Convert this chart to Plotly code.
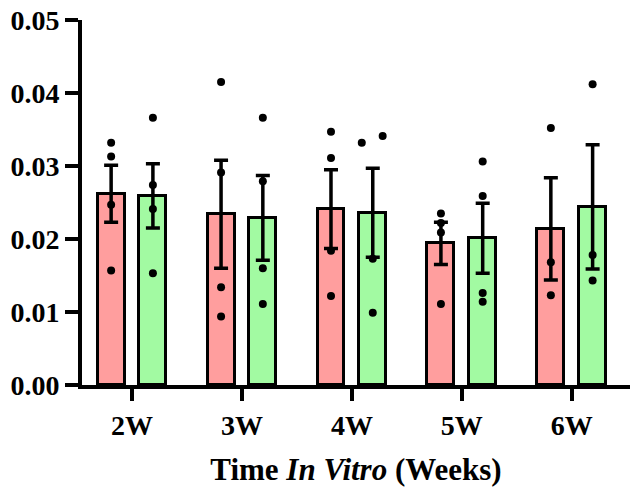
import plotly.graph_objects as go

# ---- data ----
categories = ["2W", "3W", "4W", "5W", "6W"]

red_mean = [0.0262, 0.0234, 0.0241, 0.0194, 0.0214]
red_sem = [0.0039, 0.0074, 0.0054, 0.0029, 0.0070]
green_mean = [0.0259, 0.0229, 0.0236, 0.0201, 0.0244]
green_sem = [0.0044, 0.0058, 0.0061, 0.0048, 0.0085]

red_points = [
    [0.0332, 0.0313, 0.0247, 0.0157],
    [0.0415, 0.0291, 0.0134, 0.0094],
    [0.0347, 0.0311, 0.0184, 0.0122],
    [0.0235, 0.0222, 0.0209, 0.0111],
    [0.0352, 0.0168, 0.0123],
]
green_points = [
    [0.0366, 0.0274, 0.0241, 0.0153],
    [0.0366, 0.0279, 0.0160, 0.0111],
    [0.0341, 0.0332, 0.0173, 0.0099],
    [0.0306, 0.0259, 0.0126, 0.0114],
    [0.0412, 0.0178, 0.0143],
]

y_ticks = [0.00, 0.01, 0.02, 0.03, 0.04, 0.05]

# ---- styling ----
RED = "#FF9E9E"
GREEN = "#A2FAA2"
BAR_W = 0.245
OFF = 0.19
FONT = "Liberation Serif"
green_jitter = {(2, 0): 0.09, (2, 1): -0.10}

idx = list(range(len(categories)))

fig = go.Figure()

def add_group(means, sems, points, color, off, jitter):
    fig.add_trace(go.Bar(
        x=[i + off for i in idx], y=means, width=BAR_W,
        marker=dict(color=color, line=dict(color="black", width=3)),
        error_y=dict(type="data", array=sems, visible=True,
                     color="black", thickness=3.5, width=7),
        showlegend=False, hoverinfo="skip",
    ))
    xs, ys = [], []
    for g, pts in enumerate(points):
        for k, v in enumerate(pts):
            xs.append(g + off + jitter.get((g, k), 0.0))
            ys.append(v)
    fig.add_trace(go.Scatter(
        x=xs, y=ys, mode="markers",
        marker=dict(color="black", size=8),
        showlegend=False, hoverinfo="skip",
    ))

add_group(red_mean, red_sem, red_points, RED, -OFF, {})
add_group(green_mean, green_sem, green_points, GREEN, OFF, green_jitter)

fig.update_layout(
    width=634, height=490,
    margin=dict(l=82, r=4, t=20, b=105, autoexpand=False),
    plot_bgcolor="white", paper_bgcolor="white",
    font=dict(family=FONT, color="black"),
    bargap=0,
    xaxis=dict(
        range=[-0.455, 4.53], automargin=False,
        tickmode="array", tickvals=idx, ticktext=[f"<b>{c}</b>" for c in categories],
        tickfont=dict(family=FONT, size=28, color="black"),
        ticklabeloverflow="allow",
        showline=True, linecolor="black", linewidth=4,
        ticks="outside", ticklen=12, tickwidth=4, tickcolor="black",
        showgrid=False, zeroline=False,
        title=dict(text="<b>Time <i>In Vitro</i> (Weeks)</b>",
                   font=dict(family=FONT, size=31, color="black"), standoff=20),
    ),
    yaxis=dict(
        range=[0, 0.05], automargin=False,
        tickmode="array", tickvals=y_ticks,
        ticktext=[f"<b>{v:.2f}</b>" for v in y_ticks],
        tickfont=dict(family=FONT, size=28, color="black"),
        ticklabeloverflow="allow",
        showline=True, linecolor="black", linewidth=4,
        ticks="outside", ticklen=13, tickwidth=4, tickcolor="black",
        showgrid=False, zeroline=False,
    ),
)

fig.write_html("out.html", config={"displayModeBar": False},
               post_script="document.body.style.margin='0';")
